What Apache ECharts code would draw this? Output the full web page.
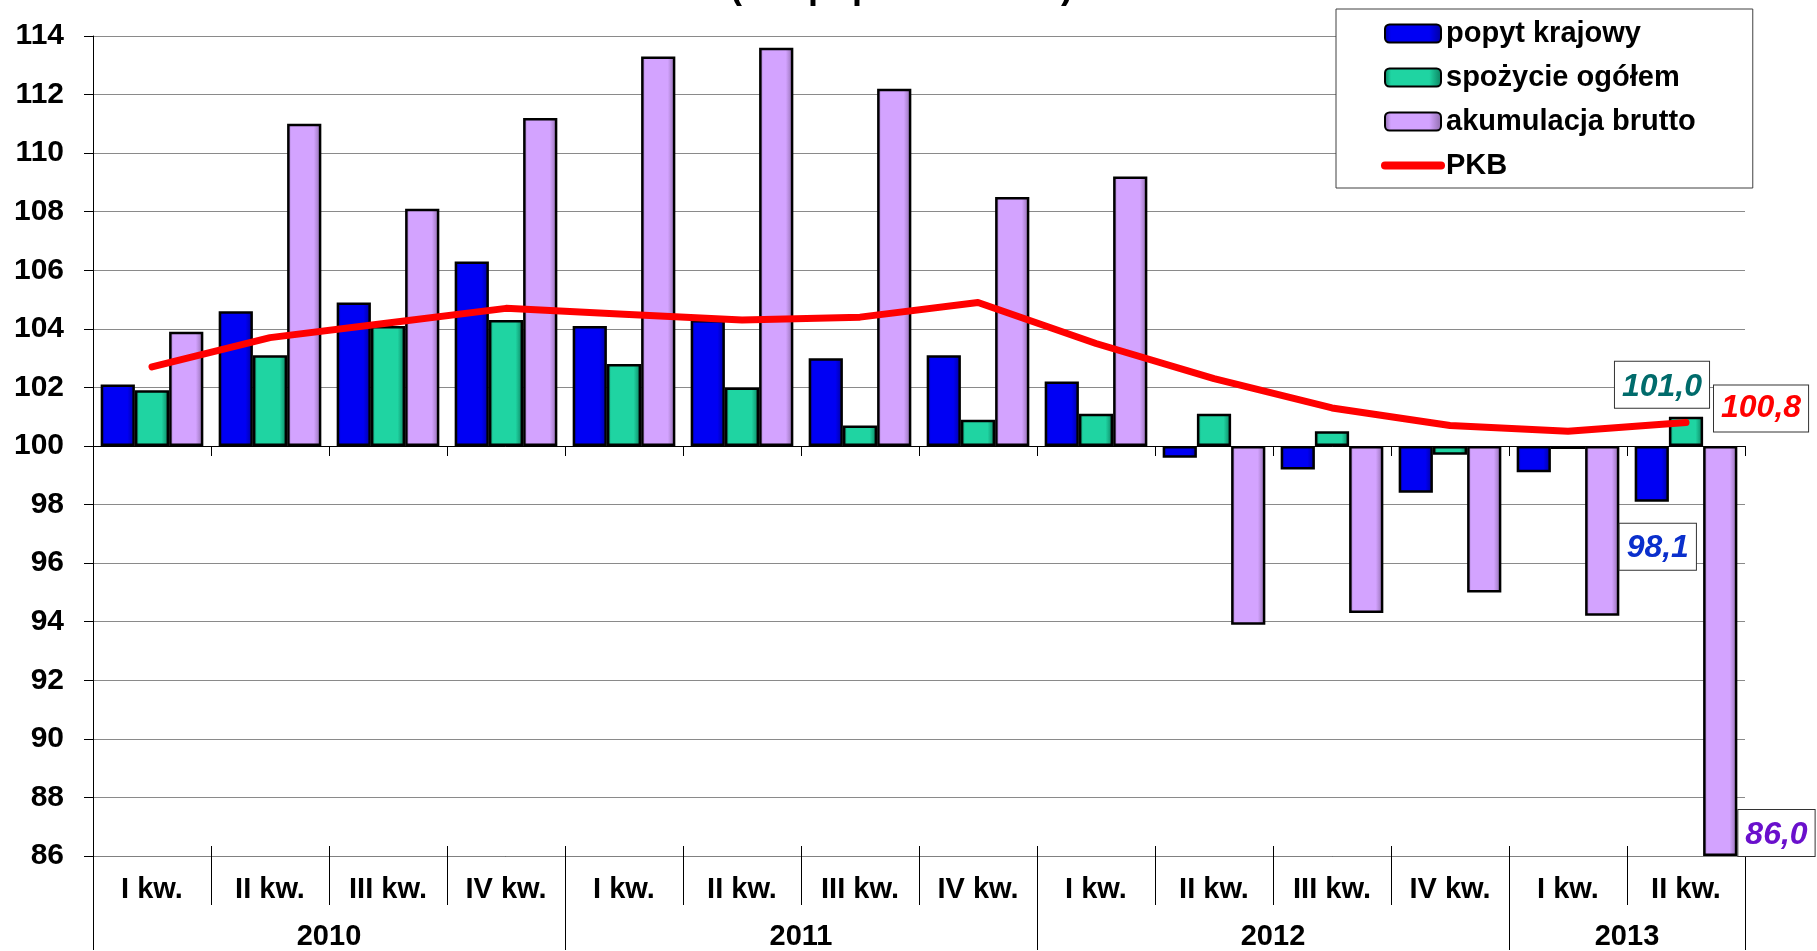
<!DOCTYPE html>
<html>
<head>
<meta charset="utf-8">
<script src="https://cdn.jsdelivr.net/npm/echarts@6/dist/echarts.min.js"></script>
<style>
  html, body { margin: 0; padding: 0; background: #fff; }
  #main { width: 1817px; height: 951px; }
</style>
</head>
<body>
<div id="main"></div>
<script type="text/javascript">
    // dane (okres poprzedni = 100)
    var kwartaly = ['I kw.', 'II kw.', 'III kw.', 'IV kw.', 'I kw.', 'II kw.', 'III kw.', 'IV kw.', 'I kw.', 'II kw.', 'III kw.', 'IV kw.', 'I kw.', 'II kw.'];
    var lata = ['2010', '2011', '2012', '2013'];
    var kwartalyWRoku = [4, 4, 4, 2];
    var popytKrajowy = [102.1, 104.6, 104.9, 106.3, 104.1, 104.3, 103.0, 103.1, 102.2, 99.6, 99.2, 98.4, 99.1, 98.1];
    var spozycieOgolem = [101.9, 103.1, 104.1, 104.3, 102.8, 102.0, 100.7, 100.9, 101.1, 101.1, 100.5, 99.7, 99.9, 101.0];
    var akumulacjaBrutto = [103.9, 111.0, 108.1, 111.2, 113.3, 113.6, 112.2, 108.5, 109.2, 93.9, 94.3, 95.0, 94.2, 86.0];
    var pkb = [102.7, 103.7, 104.2, 104.7, 104.5, 104.3, 104.4, 104.9, 103.5, 102.3, 101.3, 100.7, 100.5, 100.8];
    var BAZA = 100;

    var FONT = "'Liberation Sans', Arial, sans-serif";
    var last = kwartaly.length - 1;

    // slupki rosna od 100, wiec rysujemy odchylenie od bazy
    function odchylenie(arr) {
        return arr.map(function (v) { return +(v - BAZA).toFixed(2); });
    }
    function fmt(v) {
        return (v + BAZA).toFixed(1).replace('.', ',');
    }
    function bevel(dark, mid) {
        return new echarts.graphic.LinearGradient(0, 0, 1, 0, [
            { offset: 0, color: dark },
            { offset: 0.12, color: mid },
            { offset: 0.78, color: mid },
            { offset: 1, color: dark }
        ]);
    }
    function ramka(color) {
        return {
            show: true,
            formatter: function (p) { return fmt(p.value); },
            color: color,
            fontFamily: FONT,
            fontSize: 32,
            fontWeight: 'bold',
            fontStyle: 'italic',
            backgroundColor: '#fff',
            borderColor: '#333',
            borderWidth: 1,
            padding: [9, 7, 5, 7]
        };
    }
    function zEtykieta(arr, label) {
        return odchylenie(arr).map(function (v, i) {
            return i === last ? { value: v, label: label } : v;
        });
    }

    // pozycje podpisow lat (srodek kazdego roku)
    var latPozycje = [], latGranice = [0], acc = 0;
    kwartalyWRoku.forEach(function (n) {
        latPozycje.push(acc + n / 2);
        acc += n;
        latGranice.push(acc);
    });

    var myChart = echarts.init(document.getElementById('main'));
    var barStyle = { borderColor: '#000', borderWidth: 2.5 };

    var option = {
        animation: false,
        backgroundColor: '#fff',
        title: {
            text: '(rok poprzedni=100)',
            left: 725,
            top: -35,
            textStyle: { fontFamily: FONT, fontSize: 36, fontWeight: 'bold', color: '#000' }
        },
        grid: { left: 93, right: 72, top: 36, bottom: 94 },
        legend: {
            orient: 'vertical',
            left: 1336,
            top: 9,
            padding: [10, 57, 8, 45],
            itemGap: 15,
            itemWidth: 56,
            itemHeight: 18,
            backgroundColor: '#fff',
            borderColor: '#404040',
            borderWidth: 1,
            textStyle: { fontFamily: FONT, fontSize: 29, fontWeight: 'bold', color: '#000' },
            data: [
                'popyt krajowy',
                'spożycie ogółem',
                'akumulacja brutto',
                { name: 'PKB', itemStyle: { opacity: 0 }, lineStyle: { width: 8, cap: 'round', color: '#ff0000' } }
            ]
        },
        xAxis: [
            {
                // os na wysokosci 100, kreski w dol
                type: 'category',
                data: kwartaly,
                position: 'bottom',
                axisLine: { onZero: true, lineStyle: { color: '#000', width: 1 } },
                axisTick: { show: true, length: 10, lineStyle: { color: '#000' } },
                axisLabel: { show: false },
                splitLine: { show: false }
            },
            {
                // te same kreski w gore
                type: 'category',
                data: kwartaly,
                position: 'bottom',
                axisLine: { show: true, onZero: true, lineStyle: { color: '#000', width: 1 } },
                axisTick: { show: true, inside: true, length: 10, lineStyle: { color: '#000' } },
                axisLabel: { show: false },
                splitLine: { show: false }
            },
            {
                // podpisy kwartalow na dole
                type: 'category',
                data: kwartaly,
                position: 'bottom',
                axisLine: { onZero: false, lineStyle: { color: '#808080', width: 1 } },
                axisTick: { show: true, length: 49, lineStyle: { color: '#000' } },
                axisLabel: { margin: 19, fontFamily: FONT, fontSize: 29, fontWeight: 'bold', color: '#000' },
                splitLine: { show: false }
            },
            {
                // lata
                type: 'value',
                min: 0,
                max: kwartaly.length,
                position: 'bottom',
                axisLine: { show: false, onZero: false },
                axisTick: { show: true, length: 94, customValues: latGranice, lineStyle: { color: '#000' } },
                axisLabel: {
                    margin: 66,
                    customValues: latPozycje,
                    fontFamily: FONT, fontSize: 29, fontWeight: 'bold', color: '#000',
                    formatter: function (v) {
                        var i = latPozycje.indexOf(v);
                        return i >= 0 ? lata[i] : '';
                    }
                },
                splitLine: { show: false }
            }
        ],
        yAxis: {
            type: 'value',
            min: -14,
            max: 14,
            interval: 2,
            axisLine: { show: true, lineStyle: { color: '#000', width: 1 } },
            axisTick: { show: true, length: 9, lineStyle: { color: '#000' } },
            axisLabel: {
                margin: 29,
                fontFamily: FONT, fontSize: 30, fontWeight: 'bold', color: '#000',
                formatter: function (v) { return v + BAZA; }
            },
            splitLine: { lineStyle: { color: '#8a8a8a', width: 1 } }
        },
        series: [
            {
                name: 'popyt krajowy',
                type: 'bar',
                barGap: '0%',
                barCategoryGap: '13%',
                itemStyle: Object.assign({ color: bevel('#00009a', '#0000f4') }, barStyle),
                data: zEtykieta(popytKrajowy, Object.assign(ramka('#0a2fcc'), {
                    position: 'bottom', distance: 22, offset: [6, 0]
                }))
            },
            {
                name: 'spożycie ogółem',
                type: 'bar',
                barGap: '0%',
                barCategoryGap: '13%',
                itemStyle: Object.assign({ color: bevel('#0b7d5c', '#1fd4a2') }, barStyle),
                data: zEtykieta(spozycieOgolem, Object.assign(ramka('#006b6b'), {
                    position: 'top', distance: 9, offset: [-24, 0]
                }))
            },
            {
                name: 'akumulacja brutto',
                type: 'bar',
                barGap: '0%',
                barCategoryGap: '13%',
                itemStyle: Object.assign({ color: bevel('#8c6aa8', '#d3a3ff') }, barStyle),
                data: zEtykieta(akumulacjaBrutto, Object.assign(ramka('#6a10cc'), {
                    position: ['100%', '100%'], align: 'left', verticalAlign: 'bottom', offset: [1, 0]
                }))
            },
            {
                name: 'PKB',
                type: 'line',
                smooth: false,
                symbol: 'circle',
                symbolSize: 2,
                z: 5,
                lineStyle: { color: '#ff0000', width: 7, cap: 'round', join: 'round' },
                itemStyle: { color: '#ff0000' },
                data: zEtykieta(pkb, Object.assign(ramka('#ff0000'), {
                    position: 'right', distance: 27, offset: [0, -14]
                }))
            }
        ]
    };
    myChart.setOption(option);
</script>
</body>
</html>
